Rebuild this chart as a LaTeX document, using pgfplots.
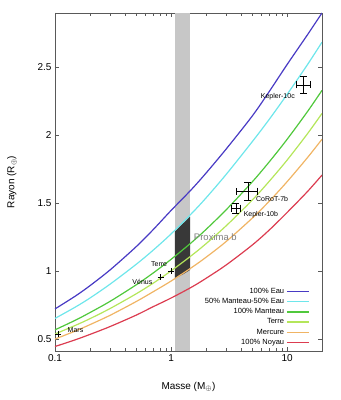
\documentclass[border=0pt]{standalone}
\usepackage{pgfplots}
\pgfplotsset{compat=1.18}
\usetikzlibrary{calc}
\usepackage{fontspec}
\setmainfont{Liberation Sans}
\definecolor{cEau}{RGB}{72,58,196}
\definecolor{cMix}{RGB}{110,230,235}
\definecolor{cMan}{RGB}{80,200,60}
\definecolor{cTer}{RGB}{180,230,90}
\definecolor{cMer}{RGB}{240,180,100}
\definecolor{cNoy}{RGB}{220,60,80}
\begin{document}
\begin{tikzpicture}
\begin{axis}[
 xmode=log, xmin=0.1, xmax=20, ymin=0.41, ymax=2.9,
 scale only axis, width=267pt, height=338pt,
 xtick={0.1,1,10}, xticklabels={0.1,1,10},
 ytick={0.5,1,1.5,2,2.5}, yticklabels={0.5,1,1.5,2,2.5},
 tick label style={font=\fontsize{10}{12}\selectfont},
 xlabel={Masse (M$_\oplus$)}, ylabel={Rayon (R$_\oplus$)},
 label style={font=\fontsize{10}{12}\selectfont},
 xlabel style={at={(axis description cs:0.5,-0.106)},anchor=center},
 ylabel style={at={(axis description cs:-0.161,0.5)},anchor=center},
 axis line style={black!65}, tick style={black!65},
 legend style={draw=none, fill=none, font=\fontsize{7.5}{9}\selectfont,
   at={(rel axis cs:0.965,0.003)}, anchor=south east, row sep=-0.5pt},
 legend cell align=right, legend plot pos=right,
 legend image code/.code={\draw[#1,line width=1.3pt] (0pt,0pt) -- (22pt,0pt);},
 every axis plot/.append style={line width=1.2pt},
]
\addplot[fill=black!22, draw=none, forget plot] coordinates {(1.08,0.41) (1.46,0.41) (1.46,2.9) (1.08,2.9)} -- cycle;
\addplot[fill=black!78, draw=none, forget plot] coordinates {(1.08,0.946) (1.27,0.975) (1.46,1.007) (1.46,1.40) (1.27,1.35) (1.08,1.29)} -- cycle;

\addplot[cEau, smooth] coordinates {(0.1,0.720) (0.15,0.815) (0.2,0.891) (0.3,1.009) (0.5,1.178) (0.7,1.303) (1,1.445) (1.5,1.60) (2,1.72) (3,1.90) (5,2.14) (7,2.32) (10,2.52) (15,2.74) (20,2.9)};
\addlegendentry{100\% Eau}
\addplot[cMix, smooth] coordinates {(0.1,0.650) (0.15,0.734) (0.2,0.800) (0.3,0.904) (0.5,1.048) (0.7,1.152) (1,1.272) (1.5,1.422) (2,1.537) (3,1.713) (5,1.951) (7,2.115) (10,2.300) (15,2.520) (20,2.685)};
\addlegendentry{50\% Manteau-50\% Eau}
\addplot[cMan, smooth] coordinates {(0.1,0.566) (0.15,0.637) (0.2,0.693) (0.3,0.777) (0.5,0.897) (0.7,0.984) (1,1.085) (1.5,1.209) (2,1.305) (3,1.452) (5,1.655) (7,1.802) (10,1.969) (15,2.174) (20,2.33)};
\addlegendentry{100\% Manteau}
\addplot[cTer, smooth] coordinates {(0.1,0.535) (0.15,0.599) (0.2,0.648) (0.3,0.724) (0.5,0.831) (0.7,0.909) (1,1.0) (1.5,1.113) (2,1.200) (3,1.334) (5,1.521) (7,1.659) (10,1.816) (15,2.011) (20,2.16)};
\addlegendentry{Terre}
\addplot[cMer, smooth] coordinates {(0.1,0.498) (0.15,0.5575) (0.2,0.604) (0.3,0.674) (0.5,0.774) (0.7,0.846) (1,0.925) (1.5,1.024) (2,1.100) (3,1.218) (5,1.388) (7,1.512) (10,1.657) (15,1.835) (20,1.97)};
\addlegendentry{Mercure}
\addplot[cNoy, smooth] coordinates {(0.1,0.443) (0.15,0.493) (0.2,0.532) (0.3,0.591) (0.5,0.674) (0.7,0.736) (1,0.800) (1.5,0.880) (2,0.945) (3,1.045) (5,1.190) (7,1.300) (10,1.430) (15,1.585) (20,1.706)};
\addlegendentry{100\% Noyau}

\addplot[black, only marks, mark=+, mark size=3pt, line width=0.6pt, forget plot] coordinates {(0.107,0.532) (0.815,0.955) (1,1)};
\addplot[black, only marks, mark=+, mark size=0pt, line width=0.6pt, forget plot,
  error bars/.cd, x dir=both, x explicit, y dir=both, y explicit,
  error bar style={black, line width=0.6pt},
  error mark options={black, mark size=3.5pt, rotate=90, line width=0.6pt}]
  coordinates {(3.62,1.462) +- (0.34,0.037) (4.6,1.587) +- (0.95,0.065) (13.8,2.37) +- (1.9,0.063)};

\node[anchor=west, font=\fontsize{7}{8}\selectfont] at (axis cs:0.12,0.562) {Mars};
\node[anchor=east, font=\fontsize{7}{8}\selectfont] at (axis cs:0.74,0.92) {Vénus};
\node[anchor=center, font=\fontsize{7}{8}\selectfont] at (axis cs:0.79,1.052) {Terre};
\node[anchor=west, font=\fontsize{7}{8}\selectfont] at (axis cs:3.95,1.412) {Kepler-10b};
\node[anchor=west, font=\fontsize{7}{8}\selectfont] at (axis cs:5.05,1.527) {CoRoT-7b};
\node[anchor=east, font=\fontsize{7}{8}\selectfont] at (axis cs:12.5,2.282) {Kepler-10c};
\node[anchor=west, font=\fontsize{9.5}{10}\selectfont, text=black!50] at (axis cs:1.47,1.248) {Proxima b};
\end{axis}
\pgfresetboundingbox
\path[use as bounding box] (current axis.south west) ++(-55pt,-49pt) rectangle ($(current axis.north east)+(19pt,13pt)$);
\end{tikzpicture}
\end{document}
